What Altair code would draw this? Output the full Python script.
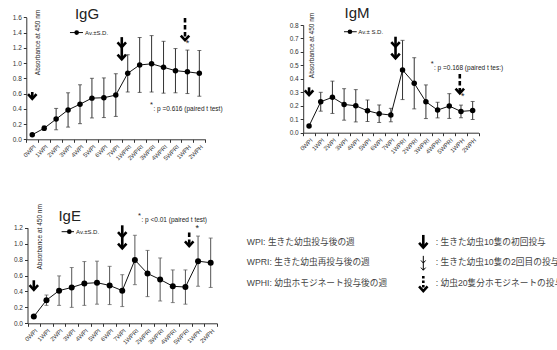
import altair as alt
import pandas as pd

FONT = "Liberation Sans"
JP = "'Liberation Sans', 'Noto Sans CJK JP', sans-serif"

categories = ["0WPI", "1WPI", "2WPI", "3WPI", "4WPI", "5WPI", "6WPI", "7WPI",
              "1WPRI", "2WPRI", "3WPRI", "4WPRI", "5WPRI", "1WPH", "2WPH"]

igg_mean = [0.06, 0.145, 0.265, 0.385, 0.46, 0.54, 0.545, 0.58, 0.865, 0.975, 0.99, 0.945, 0.90, 0.885, 0.865]
igg_sd = [0.012, 0.03, 0.14, 0.225, 0.255, 0.26, 0.26, 0.28, 0.245, 0.36, 0.37, 0.34, 0.29, 0.285, 0.30]

igm_mean = [0.05, 0.23, 0.263, 0.21, 0.20, 0.163, 0.141, 0.131, 0.466, 0.367, 0.23, 0.168, 0.198, 0.158, 0.165]
igm_sd = [0.004, 0.07, 0.12, 0.117, 0.12, 0.08, 0.065, 0.05, 0.22, 0.19, 0.125, 0.058, 0.092, 0.047, 0.067]

ige_mean = [0.085, 0.29, 0.41, 0.45, 0.50, 0.51, 0.475, 0.41, 0.795, 0.625, 0.55, 0.465, 0.455, 0.78, 0.76]
ige_sd = [0.01, 0.065, 0.185, 0.25, 0.275, 0.27, 0.24, 0.2, 0.31, 0.29, 0.27, 0.205, 0.215, 0.315, 0.31]

# arrows: (style, x index, top value, [tip values])
igg_arrows = [("solid", 0.0, 0.62, [0.53]), ("solid", 7.5, 1.34, [1.21, 1.05]), ("dash", 12.8, 1.59, [1.30])]
igm_arrows = [("solid", 0.0, 0.337, [0.28]), ("solid", 7.4, 0.713, [0.639, 0.553]), ("dash", 12.9, 0.436, [0.293])]
ige_arrows = [("solid", 0.0, 0.54, [0.42]), ("solid", 7.0, 1.23, [1.085, 0.94]), ("dash", 12.3, 1.14, [0.97])]

igg_ptext = " : p =0.616 (paired t test)"
igm_ptext = " : p =0.168  (paired t tes:)"
ige_ptext = " : p <0.01 (paired t test)"

legend_left = ["WPI: 生きた幼虫投与後の週", "WPRI: 生きた幼虫再投与後の週", "WPHI: 幼虫ホモジネート投与後の週"]
legend_right = [": 生きた幼虫10隻の初回投与", ": 生きた幼虫10隻の2回目の投与", ": 幼虫20隻分ホモジネートの投与"]

n = len(categories)
label_list = categories + [""]
label_expr = "[" + ",".join("'" + c + "'" for c in label_list) + "][round(datum.value + 0.5)]"

panels = [
    dict(title="IgG", mean=igg_mean, sd=igg_sd, ymax=1.6, ystep=0.2, xr=[26.3, 205.3], yr=[139.3, 17.3],
         arrows=igg_arrows, ptext=igg_ptext, ppos=(9.87, 0.40), star=(13.0, 1.26),
         title_pos=(4.59, 1.637), abs_pos=(0.52, 1.27), leg=(3.16, 4.25, 3.72, 4.42, 1.40),
         legtext="Av.±S.D.", psize=30, barcolor="#333"),
    dict(title="IgM", mean=igm_mean, sd=igm_sd, ymax=0.8, ystep=0.1, xr=[303.2, 478.5], yr=[132.7, 25.0],
         arrows=igm_arrows, ptext=igm_ptext, ppos=(10.41, 0.478), star=(13.15, 0.27),
         title_pos=(4.1, 0.886), abs_pos=(0.23, 0.648), leg=(2.99, 4.08, 3.5, 4.22, 0.75),
         legtext="Av.± S.D.", psize=30, barcolor="#333"),
    dict(title="IgE", mean=ige_mean, sd=ige_sd, ymax=1.2, ystep=0.2, xr=[27.5, 217.0], yr=[323.3, 227.7],
         arrows=ige_arrows, ptext=ige_ptext, ppos=(8.24, 1.30), star=(12.93, 1.19),
         title_pos=(2.84, 1.35), abs_pos=(0.49, 1.085), leg=(2.2, 3.18, 2.81, 3.34, 1.15),
         legtext="Av.±S.D.", psize=36, barcolor="#555"),
]

W, H = 557, 350
CHEV = "M-1,-1.1L0,0L1,-1.1"


def make_panel(p):
    xr, yr = p["xr"], p["yr"]
    half = (xr[1] - xr[0]) / n / 2
    ticks_y = [round(k * p["ystep"], 2) for k in range(int(round(p["ymax"] / p["ystep"])) + 1)]
    xaxis = alt.Axis(values=[k - 0.5 for k in range(n + 1)], labelExpr=label_expr, labelAngle=-45,
                     labelOffset=half, orient="bottom", offset=yr[0] - H, grid=False, tickSize=3,
                     labelFontSize=6, labelFont=FONT, labelColor="#333", domainColor="#333",
                     tickColor="#333", title=None, labelPadding=1, labelOverlap=False, labelFlush=False)
    yaxis = alt.Axis(values=ticks_y, format=".1f", orient="left", offset=-xr[0], grid=False, tickSize=3,
                     labelFontSize=6.5, labelFont=FONT, labelColor="#333", domainColor="#333",
                     tickColor="#333", title=None, labelPadding=2)
    xs = alt.Scale(domain=[-0.5, n - 0.5], range=xr, nice=False, zero=False)
    ys = alt.Scale(domain=[0, p["ymax"]], range=yr, nice=False, zero=False)
    X = alt.X("i:Q", scale=xs, axis=xaxis)
    Y = alt.Y("v:Q", scale=ys, axis=yaxis)

    idx = list(range(n))
    lo = [m - s for m, s in zip(p["mean"], p["sd"])]
    hi = [m + s for m, s in zip(p["mean"], p["sd"])]
    bars = pd.DataFrame({"i": idx, "v": lo, "v2": hi})
    caps = pd.DataFrame({"i": idx + idx, "v": lo + hi})
    pts = pd.DataFrame({"i": idx, "v": p["mean"]})

    layers = []
    layers.append(alt.Chart(bars).mark_rule(color=p["barcolor"], strokeWidth=1).encode(x=X, y=Y, y2="v2:Q"))
    layers.append(alt.Chart(caps).mark_tick(orient="horizontal", size=4, thickness=1, color=p["barcolor"]).encode(x=X, y=Y))
    layers.append(alt.Chart(pts).mark_line(color="#111", strokeWidth=1).encode(x=X, y=Y))
    layers.append(alt.Chart(pts).mark_point(filled=True, shape="circle", size=p["psize"], color="#000", opacity=1).encode(x=X, y=Y))

    # arrows
    for style, xi, top, tips in p["arrows"]:
        shaft = pd.DataFrame({"i": [xi], "v": [top], "v2": [min(tips)]})
        kw = dict(color="#000", strokeWidth=2.6, strokeCap="butt")
        if style == "dash":
            kw["strokeDash"] = [4.5, 2.5]
        layers.append(alt.Chart(shaft).mark_rule(**kw).encode(x=X, y=Y, y2="v2:Q"))
        heads = pd.DataFrame({"i": [xi] * len(tips), "v": tips})
        layers.append(alt.Chart(heads).mark_point(shape=CHEV, filled=False, size=72, strokeWidth=2.6,
                                                   color="#000", opacity=1, strokeJoin="miter").encode(x=X, y=Y))

    def txt(xi, v, s, **kw):
        d = pd.DataFrame({"i": [xi], "v": [v], "t": [s]})
        return alt.Chart(d).mark_text(**kw).encode(x=X, y=Y, text="t:N")

    layers.append(txt(p["title_pos"][0], p["title_pos"][1], p["title"], font=FONT, fontSize=15,
                      align="center", baseline="middle", color="#222"))
    layers.append(txt(p["abs_pos"][0], p["abs_pos"][1], "Absorbance at 450 nm", font=FONT, fontSize=6.5,
                      angle=270, align="center", baseline="middle", color="#222"))
    # raised asterisk + p-value text
    layers.append(txt(p["ppos"][0], p["ppos"][1], "*", font=FONT, fontSize=7.5,
                      align="left", baseline="bottom", color="#222"))
    layers.append(txt(p["ppos"][0] + 0.28, p["ppos"][1], p["ptext"], font=FONT, fontSize=6.5,
                      align="left", baseline="middle", color="#222"))
    layers.append(txt(p["star"][0], p["star"][1], "*", font=FONT, fontSize=9,
                      align="center", baseline="middle", color="#222"))
    x1, x2, xd, xt, yl = p["leg"]
    legline = pd.DataFrame({"i": [x1], "i2": [x2], "v": [yl]})
    layers.append(alt.Chart(legline).mark_rule(color="#111", strokeWidth=1).encode(x=X, x2="i2:Q", y=Y))
    legdot = pd.DataFrame({"i": [xd], "v": [yl]})
    layers.append(alt.Chart(legdot).mark_point(filled=True, shape="circle", size=22, color="#000", opacity=1).encode(x=X, y=Y))
    layers.append(txt(xt, yl, p["legtext"], font=FONT, fontSize=6, align="left", baseline="middle", color="#222"))
    return alt.layer(*layers)


# legend panel (bottom right)
rows = [0, 1, 2]
RY = alt.Y("r:Q", scale=alt.Scale(domain=[0, 2], range=[241.5, 282.5], nice=False, zero=False), axis=None)
leg_left = pd.DataFrame({"r": rows, "t": legend_left})
leg_right = pd.DataFrame({"r": rows, "t": legend_right})
leg_layers = [
    alt.Chart(leg_left).mark_text(font=JP, fontSize=8.7, align="left", baseline="middle", color="#444")
       .encode(x=alt.value(246.7), y=RY, text="t:N"),
    alt.Chart(leg_right).mark_text(font=JP, fontSize=8.7, align="left", baseline="middle", color="#444")
       .encode(x=alt.value(435.7), y=RY, text="t:N"),
]
# legend arrows: (style, top row, [tip rows])
legend_arrows = [("bold", -0.32, [0.29]), ("thin", 0.70, [1.05, 1.40]), ("dot", 1.68, [2.42])]
for style, top, tips in legend_arrows:
    shaft = pd.DataFrame({"r": [top], "r2": [max(tips)]})
    sw = 1.0 if style == "thin" else 2.6
    kw = dict(color="#000", strokeWidth=sw, strokeCap="butt")
    if style == "dot":
        kw["strokeDash"] = [2.5, 2]
    leg_layers.append(alt.Chart(shaft).mark_rule(**kw).encode(x=alt.value(423.3), y=RY, y2="r2:Q"))
    heads = pd.DataFrame({"r": tips})
    leg_layers.append(alt.Chart(heads).mark_point(shape=CHEV, filled=False, size=(22 if style == "thin" else 72),
                                                  strokeWidth=sw, color="#000", opacity=1)
                      .encode(x=alt.value(423.3), y=RY))
legend_panel = alt.layer(*leg_layers)

chart = alt.layer(*[make_panel(p) for p in panels], legend_panel).resolve_scale(
    x="independent", y="independent"
).properties(
    width=W, height=H, autosize=alt.AutoSizeParams(type="none"), padding=0, background="white"
).configure_view(stroke=None)

chart.save("out.html", embed_options={"renderer": "svg", "actions": False})
